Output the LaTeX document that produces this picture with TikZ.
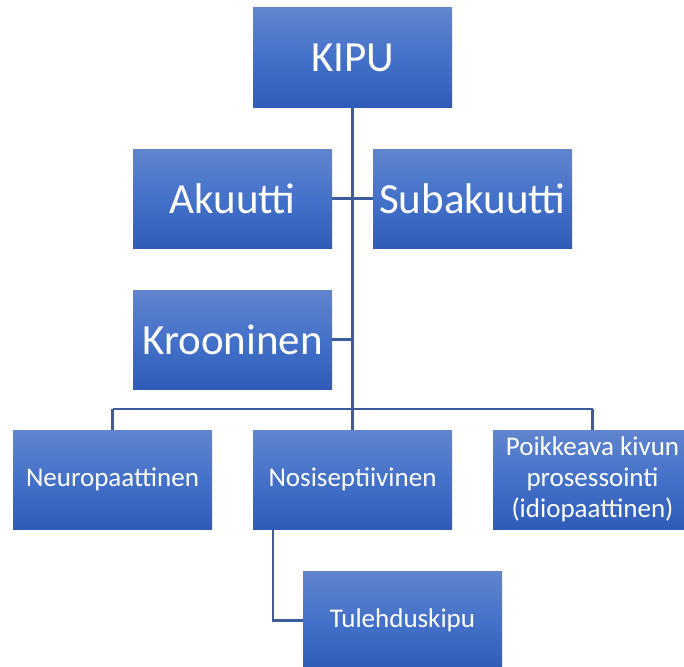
\documentclass[tikz,border=0pt]{standalone}
\usepackage{fontspec}
\setmainfont{Carlito}
\definecolor{boxtop}{RGB}{97,133,206}
\definecolor{boxmid}{RGB}{68,113,201}
\definecolor{boxbot}{RGB}{46,92,184}
\definecolor{linec}{RGB}{60,92,158}
\tikzset{
  pbox/.style={rectangle, minimum width=199pt, minimum height=99pt, inner sep=0pt,
    top color=boxtop, bottom color=boxbot, middle color=boxmid, draw=none, text=white, align=center},
  bigtxt/.style={font=\fontsize{43}{50}\selectfont},
  smalltxt/.style={font=\fontsize{27}{31}\selectfont},
  conn/.style={draw=linec, line width=2.8pt}
}
\begin{document}
\begin{tikzpicture}[x=1pt,y=-1pt]
\useasboundingbox (0,0) rectangle (684,666);
\begin{scope}
\clip (0,0) rectangle (684,666);
\coordinate (busy) at (352.5,409);
\coordinate (kroj) at (352.5,339.5);
\coordinate (trunkend) at (352.5,409);
\coordinate (busL) at (112.5,409);
\coordinate (busR) at (592.5,409);
\coordinate (nosdown) at (273,529);
\coordinate (nosbend) at (273,620.5);
% connectors
\draw[conn] (352.5,107) -- (trunkend);
\draw[conn] (232.5,198.5) -- (472.5,198.5);
\draw[conn] (232.5,339.5) -- (kroj);
\draw[conn] (busL) -- (busR);
\draw[conn] (busL) -- (112.5,431);
\draw[conn] (busR) -- (592.5,431);
\draw[conn] (busy) -- (352.5,431);
\draw[conn] (nosdown) -- (nosbend) -- (402.5,620.5);
% boxes
\node[pbox, bigtxt] (kipu) at (352.5,57.5) {KIPU};
\node[pbox, bigtxt] (aku) at (232.5,198.5) {Akuutti};
\node[pbox, bigtxt] (sub) at (472.5,198.5) {Subakuutti};
\node[pbox, bigtxt] (kro) at (232.5,339.5) {Krooninen};
\node[pbox, smalltxt] (neu) at (112.5,479.5) {Neuropaattinen};
\node[pbox, smalltxt] (nos) at (352.5,479.5) {Nosiseptiivinen};
\node[pbox, smalltxt] (poi) at (592.5,479.5) {Poikkeava kivun\\prosessointi\\(idiopaattinen)};
\node[pbox, smalltxt] (tul) at (402.5,620.5) {Tulehduskipu};
\end{scope}
\end{tikzpicture}
\end{document}
